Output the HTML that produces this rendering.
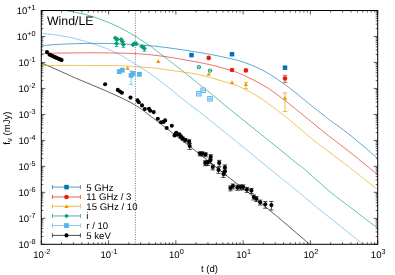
<!DOCTYPE html>
<html><head><meta charset="utf-8"><title>Wind/LE</title>
<style>
html,body{margin:0;padding:0;background:#fff;}
body{width:395px;height:275px;overflow:hidden;}
svg{display:block;will-change:transform;text-rendering:geometricPrecision;font-family:"Liberation Sans",sans-serif;fill:#000;}
</style></head><body>
<svg width="395" height="275" viewBox="0 0 395 275">
<rect width="395" height="275" fill="#fff"/>
<defs><clipPath id="c"><rect x="41.3" y="10.5" width="336.4" height="233.8"/></clipPath></defs>
<line x1="135.4" y1="10.5" x2="135.4" y2="244.3" stroke="#666" stroke-width="0.9" stroke-dasharray="1 1.43"/>
<g clip-path="url(#c)" fill="none" stroke-width="0.63" stroke-linejoin="round">
<path d="M41.50 62.90 C45.82 64.82 61.92 71.95 67.40 74.40 C72.88 76.85 68.97 75.28 74.40 77.60 C79.83 79.92 92.55 85.10 100.00 88.30 C107.45 91.50 114.10 94.48 119.10 96.80 C124.10 99.12 127.25 100.77 130.00 102.20 C132.75 103.63 133.93 104.40 135.60 105.40 C137.27 106.40 137.88 106.70 140.00 108.20 C142.12 109.70 142.57 110.03 148.30 114.40 C154.03 118.77 164.63 126.82 174.40 134.40 C184.17 141.98 198.22 153.05 206.90 159.90 C215.58 166.75 218.57 169.23 226.50 175.50 C234.43 181.77 247.83 192.13 254.50 197.50 C261.17 202.87 262.05 203.97 266.50 207.70 C270.95 211.43 274.17 213.93 281.20 219.90 C288.23 225.87 303.97 239.43 308.70 243.50 C313.43 247.57 309.45 244.17 309.60 244.30" stroke="#000000"/>
<path d="M41.50 33.40 C43.42 33.60 49.02 34.08 53.00 34.60 C56.98 35.12 61.23 35.70 65.40 36.50 C69.57 37.30 73.75 38.30 78.00 39.40 C82.25 40.50 86.40 41.68 90.90 43.10 C95.40 44.52 100.77 46.25 105.00 47.90 C109.23 49.55 113.75 51.82 116.30 53.00 C118.85 54.18 118.37 53.93 120.30 55.00 C122.23 56.07 124.62 57.40 127.90 59.40 C131.18 61.40 135.48 64.07 140.00 67.00 C144.52 69.93 150.00 73.37 155.00 77.00 C160.00 80.63 165.18 84.97 170.00 88.80 C174.82 92.63 180.57 97.33 183.90 100.00 C187.23 102.67 187.92 103.20 190.00 104.80 C192.08 106.40 194.73 108.35 196.40 109.60 C198.07 110.85 193.67 107.23 200.00 112.30 C206.33 117.37 226.90 133.97 234.40 140.00 C241.90 146.03 237.40 142.30 245.00 148.50 C252.60 154.70 272.48 171.08 280.00 177.20 C287.52 183.32 286.77 182.52 290.10 185.20 C293.43 187.88 295.38 189.47 300.00 193.30 C304.62 197.13 311.13 202.78 317.80 208.20 C324.47 213.62 332.63 219.92 340.00 225.80 C347.37 231.68 358.17 240.42 362.00 243.50 C365.83 246.58 362.83 244.17 363.00 244.30" stroke="#56b4e9"/>
<path d="M65.40 10.50 C67.50 10.88 73.75 11.87 78.00 12.80 C82.25 13.73 86.73 14.85 90.90 16.10 C95.07 17.35 99.07 18.82 103.00 20.30 C106.93 21.78 110.83 23.33 114.50 25.00 C118.17 26.67 121.53 28.43 125.00 30.30 C128.47 32.17 132.80 34.68 135.30 36.20 C137.80 37.72 137.55 37.80 140.00 39.40 C142.45 41.00 147.50 44.10 150.00 45.80 C152.50 47.50 152.03 47.32 155.00 49.60 C157.97 51.88 163.55 56.20 167.80 59.50 C172.05 62.80 176.80 66.50 180.50 69.40 C184.20 72.30 186.83 74.37 190.00 76.90 C193.17 79.43 196.63 82.33 199.50 84.60 C202.37 86.87 202.00 86.27 207.20 90.50 C212.40 94.73 222.73 103.50 230.70 110.00 C238.67 116.50 246.78 122.90 255.00 129.50 C263.22 136.10 272.68 143.68 280.00 149.60 C287.32 155.52 294.87 161.78 298.90 165.00 C302.93 168.22 299.12 164.53 304.20 168.90 C309.28 173.27 321.43 184.58 329.40 191.20 C337.37 197.82 343.98 202.45 352.00 208.60 C360.02 214.75 373.25 224.85 377.50 228.10" stroke="#009e73"/>
<path d="M41.50 65.50 C46.25 65.48 59.42 65.40 70.00 65.40 C80.58 65.40 95.83 65.40 105.00 65.50 C114.17 65.60 119.17 65.77 125.00 66.00 C130.83 66.23 135.00 66.55 140.00 66.90 C145.00 67.25 150.37 67.60 155.00 68.10 C159.63 68.60 161.97 69.08 167.80 69.90 C173.63 70.72 184.60 72.17 190.00 73.00 C195.40 73.83 195.70 73.82 200.20 74.90 C204.70 75.98 211.20 77.82 217.00 79.50 C222.80 81.18 231.17 83.75 235.00 85.00 C238.83 86.25 237.17 85.67 240.00 87.00 C242.83 88.33 247.83 90.63 252.00 93.00 C256.17 95.37 260.33 97.95 265.00 101.20 C269.67 104.45 275.97 109.42 280.00 112.50 C284.03 115.58 284.20 115.58 289.20 119.70 C294.20 123.82 305.17 133.18 310.00 137.20 C314.83 141.22 315.20 141.48 318.20 143.80 C321.20 146.12 323.32 147.57 328.00 151.10 C332.68 154.63 342.43 162.07 346.30 165.00 C350.17 167.93 346.00 164.62 351.20 168.70 C356.40 172.78 373.12 186.03 377.50 189.50" stroke="#e69f00"/>
<path d="M41.50 53.80 C42.92 53.72 46.08 53.43 50.00 53.30 C53.92 53.17 58.33 53.08 65.00 53.00 C71.67 52.92 83.33 52.82 90.00 52.80 C96.67 52.78 99.17 52.83 105.00 52.90 C110.83 52.97 119.17 53.03 125.00 53.20 C130.83 53.37 135.00 53.55 140.00 53.90 C145.00 54.25 149.67 54.68 155.00 55.30 C160.33 55.92 166.17 56.68 172.00 57.60 C177.83 58.52 185.33 59.97 190.00 60.80 C194.67 61.63 195.50 61.67 200.00 62.60 C204.50 63.53 211.17 64.87 217.00 66.40 C222.83 67.93 231.17 70.58 235.00 71.80 C238.83 73.02 237.17 72.47 240.00 73.70 C242.83 74.93 247.83 77.08 252.00 79.20 C256.17 81.32 262.00 84.70 265.00 86.40 C268.00 88.10 266.65 87.03 270.00 89.40 C273.35 91.77 280.10 96.73 285.10 100.60 C290.10 104.47 296.13 109.48 300.00 112.60 C303.87 115.72 304.42 116.13 308.30 119.30 C312.18 122.47 320.23 129.10 323.30 131.60 C326.37 134.10 322.25 130.85 326.70 134.30 C331.15 137.75 342.73 146.57 350.00 152.30 C357.27 158.03 365.72 164.98 370.30 168.70 C374.88 172.42 376.30 173.62 377.50 174.60" stroke="#e51e10"/>
<path d="M41.50 46.20 C42.08 46.07 42.50 45.68 45.00 45.40 C47.50 45.12 52.03 44.77 56.50 44.50 C60.97 44.23 66.22 43.98 71.80 43.80 C77.38 43.62 84.47 43.47 90.00 43.40 C95.53 43.33 100.00 43.33 105.00 43.40 C110.00 43.47 114.17 43.53 120.00 43.80 C125.83 44.07 134.17 44.60 140.00 45.00 C145.83 45.40 149.67 45.65 155.00 46.20 C160.33 46.75 166.17 47.50 172.00 48.30 C177.83 49.10 185.33 50.28 190.00 51.00 C194.67 51.72 195.50 51.82 200.00 52.60 C204.50 53.38 211.17 54.52 217.00 55.70 C222.83 56.88 231.17 58.82 235.00 59.70 C238.83 60.58 237.17 60.07 240.00 61.00 C242.83 61.93 247.83 63.55 252.00 65.30 C256.17 67.05 261.17 69.45 265.00 71.50 C268.83 73.55 271.60 75.35 275.00 77.60 C278.40 79.85 282.50 82.90 285.40 85.00 C288.30 87.10 289.22 87.70 292.40 90.20 C295.58 92.70 300.73 96.95 304.50 100.00 C308.27 103.05 311.52 105.75 315.00 108.50 C318.48 111.25 322.75 114.43 325.40 116.50 C328.05 118.57 326.80 117.82 330.90 120.90 C335.00 123.98 342.23 128.78 350.00 135.00 C357.77 141.22 372.92 154.33 377.50 158.20" stroke="#0072b2"/>
</g>
<path d="M180.80 135.22 V138.22 M178.60 135.22 H183.00 M178.60 138.22 H183.00" stroke="#000" stroke-width="0.70" fill="none"/>
<path d="M182.70 137.12 V140.12 M180.50 137.12 H184.90 M180.50 140.12 H184.90" stroke="#000" stroke-width="0.70" fill="none"/>
<path d="M185.30 138.47 V142.07 M183.10 138.47 H187.50 M183.10 142.07 H187.50" stroke="#000" stroke-width="0.70" fill="none"/>
<path d="M189.10 139.80 V143.80 M186.90 139.80 H191.30 M186.90 143.80 H191.30" stroke="#000" stroke-width="0.70" fill="none"/>
<path d="M189.70 143.45 V149.45 M187.50 143.45 H191.90 M187.50 149.45 H191.90" stroke="#000" stroke-width="0.70" fill="none"/>
<path d="M199.90 151.90 V155.90 M197.70 151.90 H202.10 M197.70 155.90 H202.10" stroke="#000" stroke-width="0.70" fill="none"/>
<path d="M202.40 151.90 V155.90 M200.20 151.90 H204.60 M200.20 155.90 H204.60" stroke="#000" stroke-width="0.70" fill="none"/>
<path d="M205.60 152.80 V156.80 M203.40 152.80 H207.80 M203.40 156.80 H207.80" stroke="#000" stroke-width="0.70" fill="none"/>
<path d="M210.70 154.68 V159.68 M208.50 154.68 H212.90 M208.50 159.68 H212.90" stroke="#000" stroke-width="0.70" fill="none"/>
<path d="M210.30 158.28 V163.28 M208.10 158.28 H212.50 M208.10 163.28 H212.50" stroke="#000" stroke-width="0.70" fill="none"/>
<path d="M205.20 160.78 V165.78 M203.00 160.78 H207.40 M203.00 165.78 H207.40" stroke="#000" stroke-width="0.70" fill="none"/>
<path d="M207.70 160.47 V165.47 M205.50 160.47 H209.90 M205.50 165.47 H209.90" stroke="#000" stroke-width="0.70" fill="none"/>
<path d="M212.80 164.88 V169.88 M210.60 164.88 H215.00 M210.60 169.88 H215.00" stroke="#000" stroke-width="0.70" fill="none"/>
<path d="M219.20 160.35 V166.35 M217.00 160.35 H221.40 M217.00 166.35 H221.40" stroke="#000" stroke-width="0.70" fill="none"/>
<path d="M218.50 167.35 V173.35 M216.30 167.35 H220.70 M216.30 173.35 H220.70" stroke="#000" stroke-width="0.70" fill="none"/>
<path d="M224.90 164.85 V170.85 M222.70 164.85 H227.10 M222.70 170.85 H227.10" stroke="#000" stroke-width="0.70" fill="none"/>
<path d="M224.90 169.05 V175.05 M222.70 169.05 H227.10 M222.70 175.05 H227.10" stroke="#000" stroke-width="0.70" fill="none"/>
<path d="M223.40 171.45 V177.45 M221.20 171.45 H225.60 M221.20 177.45 H225.60" stroke="#000" stroke-width="0.70" fill="none"/>
<path d="M230.40 185.88 V190.88 M228.20 185.88 H232.60 M228.20 190.88 H232.60" stroke="#000" stroke-width="0.70" fill="none"/>
<path d="M232.90 183.97 V188.97 M230.70 183.97 H235.10 M230.70 188.97 H235.10" stroke="#000" stroke-width="0.70" fill="none"/>
<path d="M237.40 185.28 V190.28 M235.20 185.28 H239.60 M235.20 190.28 H239.60" stroke="#000" stroke-width="0.70" fill="none"/>
<path d="M240.50 184.88 V189.88 M238.30 184.88 H242.70 M238.30 189.88 H242.70" stroke="#000" stroke-width="0.70" fill="none"/>
<path d="M243.10 184.88 V189.88 M240.90 184.88 H245.30 M240.90 189.88 H245.30" stroke="#000" stroke-width="0.70" fill="none"/>
<path d="M246.90 187.38 V192.38 M244.70 187.38 H249.10 M244.70 192.38 H249.10" stroke="#000" stroke-width="0.70" fill="none"/>
<path d="M251.40 188.47 V193.47 M249.20 188.47 H253.60 M249.20 193.47 H253.60" stroke="#000" stroke-width="0.70" fill="none"/>
<path d="M253.80 194.97 V199.97 M251.60 194.97 H256.00 M251.60 199.97 H256.00" stroke="#000" stroke-width="0.70" fill="none"/>
<path d="M256.40 196.57 V201.57 M254.20 196.57 H258.60 M254.20 201.57 H258.60" stroke="#000" stroke-width="0.70" fill="none"/>
<path d="M260.20 200.07 V205.07 M258.00 200.07 H262.40 M258.00 205.07 H262.40" stroke="#000" stroke-width="0.70" fill="none"/>
<path d="M265.30 201.41 V208.21 M263.10 201.41 H267.50 M263.10 208.21 H267.50" stroke="#000" stroke-width="0.70" fill="none"/>
<path d="M271.40 201.44 V210.04 M269.20 201.44 H273.60 M269.20 210.04 H273.60" stroke="#000" stroke-width="0.70" fill="none"/>
<circle cx="47.00" cy="52.10" r="2.05" fill="#000"/>
<circle cx="49.50" cy="54.60" r="2.05" fill="#000"/>
<circle cx="51.00" cy="55.30" r="2.05" fill="#000"/>
<circle cx="52.50" cy="56.00" r="2.05" fill="#000"/>
<circle cx="54.00" cy="56.70" r="2.05" fill="#000"/>
<circle cx="55.50" cy="57.40" r="2.05" fill="#000"/>
<circle cx="57.00" cy="58.00" r="2.05" fill="#000"/>
<circle cx="58.50" cy="58.70" r="2.05" fill="#000"/>
<circle cx="60.00" cy="59.40" r="2.05" fill="#000"/>
<circle cx="61.60" cy="60.10" r="2.05" fill="#000"/>
<circle cx="105.10" cy="84.20" r="2.05" fill="#000"/>
<circle cx="117.80" cy="89.90" r="2.05" fill="#000"/>
<circle cx="120.00" cy="91.50" r="2.05" fill="#000"/>
<circle cx="121.90" cy="92.70" r="2.05" fill="#000"/>
<circle cx="130.50" cy="97.60" r="2.05" fill="#000"/>
<circle cx="137.50" cy="100.40" r="2.05" fill="#000"/>
<circle cx="138.80" cy="102.30" r="2.05" fill="#000"/>
<circle cx="142.00" cy="105.40" r="2.05" fill="#000"/>
<circle cx="144.80" cy="109.00" r="2.05" fill="#000"/>
<circle cx="149.00" cy="108.80" r="2.05" fill="#000"/>
<circle cx="150.20" cy="110.80" r="2.05" fill="#000"/>
<circle cx="153.70" cy="112.10" r="2.05" fill="#000"/>
<circle cx="157.80" cy="118.80" r="2.05" fill="#000"/>
<circle cx="161.00" cy="122.30" r="2.05" fill="#000"/>
<circle cx="163.50" cy="121.90" r="2.05" fill="#000"/>
<circle cx="165.10" cy="120.40" r="2.05" fill="#000"/>
<circle cx="171.80" cy="125.80" r="2.05" fill="#000"/>
<circle cx="166.70" cy="128.00" r="2.05" fill="#000"/>
<circle cx="176.30" cy="132.80" r="2.05" fill="#000"/>
<circle cx="179.40" cy="134.40" r="2.05" fill="#000"/>
<circle cx="175.70" cy="133.90" r="2.05" fill="#000"/>
<circle cx="177.60" cy="134.50" r="2.05" fill="#000"/>
<circle cx="180.80" cy="136.50" r="2.05" fill="#000"/>
<circle cx="182.70" cy="138.40" r="2.05" fill="#000"/>
<circle cx="185.30" cy="140.00" r="2.05" fill="#000"/>
<circle cx="189.10" cy="141.50" r="2.05" fill="#000"/>
<circle cx="189.70" cy="146.00" r="2.05" fill="#000"/>
<circle cx="199.90" cy="153.60" r="2.05" fill="#000"/>
<circle cx="202.40" cy="153.60" r="2.05" fill="#000"/>
<circle cx="205.60" cy="154.50" r="2.05" fill="#000"/>
<circle cx="210.70" cy="156.80" r="2.05" fill="#000"/>
<circle cx="210.30" cy="160.40" r="2.05" fill="#000"/>
<circle cx="205.20" cy="162.90" r="2.05" fill="#000"/>
<circle cx="207.70" cy="162.60" r="2.05" fill="#000"/>
<circle cx="212.80" cy="167.00" r="2.05" fill="#000"/>
<circle cx="219.20" cy="162.90" r="2.05" fill="#000"/>
<circle cx="218.50" cy="169.90" r="2.05" fill="#000"/>
<circle cx="224.90" cy="167.40" r="2.05" fill="#000"/>
<circle cx="224.90" cy="171.60" r="2.05" fill="#000"/>
<circle cx="223.40" cy="174.00" r="2.05" fill="#000"/>
<circle cx="230.40" cy="188.00" r="2.05" fill="#000"/>
<circle cx="232.90" cy="186.10" r="2.05" fill="#000"/>
<circle cx="237.40" cy="187.40" r="2.05" fill="#000"/>
<circle cx="240.50" cy="187.00" r="2.05" fill="#000"/>
<circle cx="243.10" cy="187.00" r="2.05" fill="#000"/>
<circle cx="246.90" cy="189.50" r="2.05" fill="#000"/>
<circle cx="251.40" cy="190.60" r="2.05" fill="#000"/>
<circle cx="253.80" cy="197.10" r="2.05" fill="#000"/>
<circle cx="256.40" cy="198.70" r="2.05" fill="#000"/>
<circle cx="260.20" cy="202.20" r="2.05" fill="#000"/>
<circle cx="265.30" cy="204.30" r="2.05" fill="#000"/>
<circle cx="271.40" cy="205.10" r="2.05" fill="#000"/>
<circle cx="174.60" cy="135.40" r="2.05" fill="#000"/>
<path d="M131.10 71.00 V84.50 M129.10 71.00 H133.10 M129.10 84.50 H133.10" stroke="#56b4e9" stroke-width="0.70" fill="none"/>
<rect x="116.90" y="69.20" width="4.80" height="4.80" fill="#56b4e9"/>
<rect x="119.90" y="67.80" width="4.80" height="4.80" fill="#56b4e9"/>
<rect x="128.70" y="73.00" width="4.80" height="4.80" fill="#56b4e9"/>
<rect x="130.60" y="71.00" width="4.80" height="4.80" fill="#56b4e9"/>
<rect x="137.00" y="71.90" width="4.80" height="4.80" fill="#56b4e9"/>
<rect x="196.60" y="91.40" width="4.60" height="4.60" fill="#d4eafa" stroke="#56b4e9" stroke-width="0.9"/>
<path d="M197.90 93.70 H199.90 M197.90 92.70 V94.70 M199.90 92.70 V94.70" stroke="#56b4e9" stroke-width="0.7" fill="none"/>
<rect x="200.80" y="88.00" width="4.60" height="4.60" fill="#d4eafa" stroke="#56b4e9" stroke-width="0.9"/>
<path d="M202.10 90.30 H204.10 M202.10 89.30 V91.30 M204.10 89.30 V91.30" stroke="#56b4e9" stroke-width="0.7" fill="none"/>
<rect x="207.70" y="96.50" width="4.60" height="4.60" fill="#d4eafa" stroke="#56b4e9" stroke-width="0.9"/>
<path d="M209.00 98.80 H211.00 M209.00 97.80 V99.80 M211.00 97.80 V99.80" stroke="#56b4e9" stroke-width="0.7" fill="none"/>
<path d="M116.50 40.70 V46.50 M114.50 40.70 H118.50 M114.50 46.50 H118.50" stroke="#009e73" stroke-width="0.70" fill="none"/>
<path d="M123.40 41.40 V47.40 M121.40 41.40 H125.40 M121.40 47.40 H125.40" stroke="#009e73" stroke-width="0.70" fill="none"/>
<path d="M144.40 45.70 V51.30 M142.40 45.70 H146.40 M142.40 51.30 H146.40" stroke="#009e73" stroke-width="0.70" fill="none"/>
<path d="M115.30 35.50 L117.80 38.00 L115.30 40.50 L112.80 38.00 Z" fill="#009e73"/>
<path d="M117.20 36.80 L119.70 39.30 L117.20 41.80 L114.70 39.30 Z" fill="#009e73"/>
<path d="M116.50 41.10 L119.00 43.60 L116.50 46.10 L114.00 43.60 Z" fill="#009e73"/>
<path d="M121.20 36.90 L123.70 39.40 L121.20 41.90 L118.70 39.40 Z" fill="#009e73"/>
<path d="M122.30 39.10 L124.80 41.60 L122.30 44.10 L119.80 41.60 Z" fill="#009e73"/>
<path d="M123.40 41.90 L125.90 44.40 L123.40 46.90 L120.90 44.40 Z" fill="#009e73"/>
<path d="M133.00 42.30 L135.50 44.80 L133.00 47.30 L130.50 44.80 Z" fill="#009e73"/>
<path d="M136.20 41.30 L138.70 43.80 L136.20 46.30 L133.70 43.80 Z" fill="#009e73"/>
<path d="M134.60 41.10 L137.10 43.60 L134.60 46.10 L132.10 43.60 Z" fill="#009e73"/>
<path d="M141.90 44.10 L144.40 46.60 L141.90 49.10 L139.40 46.60 Z" fill="#009e73"/>
<path d="M144.40 46.00 L146.90 48.50 L144.40 51.00 L141.90 48.50 Z" fill="#009e73"/>
<circle cx="198.90" cy="67.20" r="1.75" fill="#fff" stroke="#009e73" stroke-width="0.9"/>
<path d="M197.70 67.20 H200.10 M197.70 66.30 V68.10 M200.10 66.30 V68.10" stroke="#009e73" stroke-width="0.7" fill="none"/>
<circle cx="210.00" cy="70.60" r="1.75" fill="#fff" stroke="#009e73" stroke-width="0.9"/>
<path d="M208.80 70.60 H211.20 M208.80 69.70 V71.50 M211.20 69.70 V71.50" stroke="#009e73" stroke-width="0.7" fill="none"/>
<path d="M245.90 82.30 V88.70 M243.80 82.30 H248.00 M243.80 88.70 H248.00" stroke="#e69f00" stroke-width="0.70" fill="none"/>
<path d="M285.00 92.90 V111.50 M282.80 92.90 H287.20 M282.80 111.50 H287.20" stroke="#e69f00" stroke-width="0.70" fill="none"/>
<path d="M127.60 66.01 L129.80 69.75 L125.40 69.75 Z" fill="#e69f00"/>
<path d="M158.30 59.21 L160.50 62.95 L156.10 62.95 Z" fill="#e69f00"/>
<path d="M208.70 72.11 L210.90 75.85 L206.50 75.85 Z" fill="#e69f00"/>
<path d="M232.00 80.31 L234.20 84.05 L229.80 84.05 Z" fill="#e69f00"/>
<path d="M245.90 82.31 L248.10 86.05 L243.70 86.05 Z" fill="#e69f00"/>
<path d="M285.00 96.01 L287.20 99.75 L282.80 99.75 Z" fill="#e69f00"/>
<path d="M285.00 75.40 V82.40 M282.80 75.40 H287.20 M282.80 82.40 H287.20" stroke="#e51e10" stroke-width="0.70" fill="none"/>
<circle cx="208.70" cy="57.90" r="2.30" fill="#e51e10"/>
<circle cx="232.00" cy="70.00" r="2.30" fill="#e51e10"/>
<circle cx="245.90" cy="70.40" r="2.30" fill="#e51e10"/>
<circle cx="285.00" cy="78.50" r="2.30" fill="#e51e10"/>
<rect x="189.25" y="52.85" width="4.50" height="4.50" fill="#0072b2"/>
<rect x="229.75" y="51.95" width="4.50" height="4.50" fill="#0072b2"/>
<rect x="282.75" y="65.45" width="4.50" height="4.50" fill="#0072b2"/>
<path d="M52.40 187.10 H80.40 M52.40 185.00 V189.20 M80.40 185.00 V189.20" stroke="#0072b2" stroke-width="0.70" fill="none"/>
<rect x="64.25" y="184.85" width="4.50" height="4.50" fill="#0072b2"/>
<text x="86.3" y="190.6" font-size="9.6">5 GHz</text>
<path d="M52.40 196.95 H80.40 M52.40 194.85 V199.05 M80.40 194.85 V199.05" stroke="#e51e10" stroke-width="0.70" fill="none"/>
<circle cx="66.50" cy="196.95" r="2.30" fill="#e51e10"/>
<text x="86.3" y="200.4" font-size="9.6">11 GHz / 3</text>
<path d="M52.40 206.30 H80.40 M52.40 204.20 V208.40 M80.40 204.20 V208.40" stroke="#e69f00" stroke-width="0.70" fill="none"/>
<path d="M66.50 204.21 L68.70 207.95 L64.30 207.95 Z" fill="#e69f00"/>
<text x="86.3" y="209.8" font-size="9.6">15 GHz / 10</text>
<path d="M52.40 215.95 H80.40 M52.40 213.85 V218.05 M80.40 213.85 V218.05" stroke="#009e73" stroke-width="0.70" fill="none"/>
<path d="M66.50 213.65 L68.80 215.95 L66.50 218.25 L64.20 215.95 Z" fill="#009e73"/>
<text x="86.3" y="219.4" font-size="9.6">i</text>
<path d="M52.40 225.55 H80.40 M52.40 223.45 V227.65 M80.40 223.45 V227.65" stroke="#56b4e9" stroke-width="0.70" fill="none"/>
<rect x="64.10" y="223.15" width="4.80" height="4.80" fill="#56b4e9"/>
<text x="86.3" y="229.1" font-size="9.6">r / 10</text>
<path d="M52.40 235.40 H80.40 M52.40 233.30 V237.50 M80.40 233.30 V237.50" stroke="#000000" stroke-width="0.70" fill="none"/>
<circle cx="66.50" cy="235.40" r="2.05" fill="#000000"/>
<text x="86.3" y="238.9" font-size="9.6">5 keV</text>
<path d="M41.30 244.30 v-4 M41.30 10.50 v4 M61.55 244.30 v-2 M61.55 10.50 v2 M73.40 244.30 v-2 M73.40 10.50 v2 M81.81 244.30 v-2 M81.81 10.50 v2 M88.33 244.30 v-2 M88.33 10.50 v2 M93.65 244.30 v-2 M93.65 10.50 v2 M98.16 244.30 v-2 M98.16 10.50 v2 M102.06 244.30 v-2 M102.06 10.50 v2 M105.50 244.30 v-2 M105.50 10.50 v2 M108.58 244.30 v-4 M108.58 10.50 v4 M128.83 244.30 v-2 M128.83 10.50 v2 M140.68 244.30 v-2 M140.68 10.50 v2 M149.09 244.30 v-2 M149.09 10.50 v2 M155.61 244.30 v-2 M155.61 10.50 v2 M160.93 244.30 v-2 M160.93 10.50 v2 M165.44 244.30 v-2 M165.44 10.50 v2 M169.34 244.30 v-2 M169.34 10.50 v2 M172.78 244.30 v-2 M172.78 10.50 v2 M175.86 244.30 v-4 M175.86 10.50 v4 M196.11 244.30 v-2 M196.11 10.50 v2 M207.96 244.30 v-2 M207.96 10.50 v2 M216.37 244.30 v-2 M216.37 10.50 v2 M222.89 244.30 v-2 M222.89 10.50 v2 M228.21 244.30 v-2 M228.21 10.50 v2 M232.72 244.30 v-2 M232.72 10.50 v2 M236.62 244.30 v-2 M236.62 10.50 v2 M240.06 244.30 v-2 M240.06 10.50 v2 M243.14 244.30 v-4 M243.14 10.50 v4 M263.39 244.30 v-2 M263.39 10.50 v2 M275.24 244.30 v-2 M275.24 10.50 v2 M283.65 244.30 v-2 M283.65 10.50 v2 M290.17 244.30 v-2 M290.17 10.50 v2 M295.49 244.30 v-2 M295.49 10.50 v2 M300.00 244.30 v-2 M300.00 10.50 v2 M303.90 244.30 v-2 M303.90 10.50 v2 M307.34 244.30 v-2 M307.34 10.50 v2 M310.42 244.30 v-4 M310.42 10.50 v4 M330.67 244.30 v-2 M330.67 10.50 v2 M342.52 244.30 v-2 M342.52 10.50 v2 M350.93 244.30 v-2 M350.93 10.50 v2 M357.45 244.30 v-2 M357.45 10.50 v2 M362.77 244.30 v-2 M362.77 10.50 v2 M367.28 244.30 v-2 M367.28 10.50 v2 M371.18 244.30 v-2 M371.18 10.50 v2 M374.62 244.30 v-2 M374.62 10.50 v2 M377.70 244.30 v-4 M377.70 10.50 v4 M41.30 244.30 h4 M377.70 244.30 h-4 M41.30 236.48 h2 M377.70 236.48 h-2 M41.30 231.91 h2 M377.70 231.91 h-2 M41.30 228.66 h2 M377.70 228.66 h-2 M41.30 226.14 h2 M377.70 226.14 h-2 M41.30 224.09 h2 M377.70 224.09 h-2 M41.30 222.35 h2 M377.70 222.35 h-2 M41.30 220.84 h2 M377.70 220.84 h-2 M41.30 219.51 h2 M377.70 219.51 h-2 M41.30 218.32 h4 M377.70 218.32 h-4 M41.30 210.50 h2 M377.70 210.50 h-2 M41.30 205.93 h2 M377.70 205.93 h-2 M41.30 202.68 h2 M377.70 202.68 h-2 M41.30 200.16 h2 M377.70 200.16 h-2 M41.30 198.11 h2 M377.70 198.11 h-2 M41.30 196.37 h2 M377.70 196.37 h-2 M41.30 194.86 h2 M377.70 194.86 h-2 M41.30 193.53 h2 M377.70 193.53 h-2 M41.30 192.34 h4 M377.70 192.34 h-4 M41.30 184.52 h2 M377.70 184.52 h-2 M41.30 179.95 h2 M377.70 179.95 h-2 M41.30 176.70 h2 M377.70 176.70 h-2 M41.30 174.19 h2 M377.70 174.19 h-2 M41.30 172.13 h2 M377.70 172.13 h-2 M41.30 170.39 h2 M377.70 170.39 h-2 M41.30 168.88 h2 M377.70 168.88 h-2 M41.30 167.56 h2 M377.70 167.56 h-2 M41.30 166.37 h4 M377.70 166.37 h-4 M41.30 158.55 h2 M377.70 158.55 h-2 M41.30 153.97 h2 M377.70 153.97 h-2 M41.30 150.73 h2 M377.70 150.73 h-2 M41.30 148.21 h2 M377.70 148.21 h-2 M41.30 146.15 h2 M377.70 146.15 h-2 M41.30 144.41 h2 M377.70 144.41 h-2 M41.30 142.91 h2 M377.70 142.91 h-2 M41.30 141.58 h2 M377.70 141.58 h-2 M41.30 140.39 h4 M377.70 140.39 h-4 M41.30 132.57 h2 M377.70 132.57 h-2 M41.30 127.99 h2 M377.70 127.99 h-2 M41.30 124.75 h2 M377.70 124.75 h-2 M41.30 122.23 h2 M377.70 122.23 h-2 M41.30 120.17 h2 M377.70 120.17 h-2 M41.30 118.44 h2 M377.70 118.44 h-2 M41.30 116.93 h2 M377.70 116.93 h-2 M41.30 115.60 h2 M377.70 115.60 h-2 M41.30 114.41 h4 M377.70 114.41 h-4 M41.30 106.59 h2 M377.70 106.59 h-2 M41.30 102.02 h2 M377.70 102.02 h-2 M41.30 98.77 h2 M377.70 98.77 h-2 M41.30 96.25 h2 M377.70 96.25 h-2 M41.30 94.20 h2 M377.70 94.20 h-2 M41.30 92.46 h2 M377.70 92.46 h-2 M41.30 90.95 h2 M377.70 90.95 h-2 M41.30 89.62 h2 M377.70 89.62 h-2 M41.30 88.43 h4 M377.70 88.43 h-4 M41.30 80.61 h2 M377.70 80.61 h-2 M41.30 76.04 h2 M377.70 76.04 h-2 M41.30 72.79 h2 M377.70 72.79 h-2 M41.30 70.28 h2 M377.70 70.28 h-2 M41.30 68.22 h2 M377.70 68.22 h-2 M41.30 66.48 h2 M377.70 66.48 h-2 M41.30 64.97 h2 M377.70 64.97 h-2 M41.30 63.64 h2 M377.70 63.64 h-2 M41.30 62.46 h4 M377.70 62.46 h-4 M41.30 54.64 h2 M377.70 54.64 h-2 M41.30 50.06 h2 M377.70 50.06 h-2 M41.30 46.82 h2 M377.70 46.82 h-2 M41.30 44.30 h2 M377.70 44.30 h-2 M41.30 42.24 h2 M377.70 42.24 h-2 M41.30 40.50 h2 M377.70 40.50 h-2 M41.30 39.00 h2 M377.70 39.00 h-2 M41.30 37.67 h2 M377.70 37.67 h-2 M41.30 36.48 h4 M377.70 36.48 h-4 M41.30 28.66 h2 M377.70 28.66 h-2 M41.30 24.08 h2 M377.70 24.08 h-2 M41.30 20.84 h2 M377.70 20.84 h-2 M41.30 18.32 h2 M377.70 18.32 h-2 M41.30 16.26 h2 M377.70 16.26 h-2 M41.30 14.52 h2 M377.70 14.52 h-2 M41.30 13.02 h2 M377.70 13.02 h-2 M41.30 11.69 h2 M377.70 11.69 h-2 M41.30 10.50 h4 M377.70 10.50 h-4" stroke="#000" stroke-width="0.65" fill="none"/>
<rect x="41.3" y="10.5" width="336.4" height="233.8" fill="none" stroke="#000" stroke-width="1"/>
<text x="41.8" y="258.2" font-size="9.6" text-anchor="middle">10<tspan font-size="7.3" dy="-4.1">-2</tspan></text>
<text x="109.1" y="258.2" font-size="9.6" text-anchor="middle">10<tspan font-size="7.3" dy="-4.1">-1</tspan></text>
<text x="176.4" y="258.2" font-size="9.6" text-anchor="middle">10<tspan font-size="7.3" dy="-4.1">0</tspan></text>
<text x="243.6" y="258.2" font-size="9.6" text-anchor="middle">10<tspan font-size="7.3" dy="-4.1">1</tspan></text>
<text x="310.9" y="258.2" font-size="9.6" text-anchor="middle">10<tspan font-size="7.3" dy="-4.1">2</tspan></text>
<text x="378.2" y="258.2" font-size="9.6" text-anchor="middle">10<tspan font-size="7.3" dy="-4.1">3</tspan></text>
<text x="35.7" y="248.1" font-size="9.6" text-anchor="end">10<tspan font-size="7.3" dy="-4.1">-8</tspan></text>
<text x="35.7" y="222.1" font-size="9.6" text-anchor="end">10<tspan font-size="7.3" dy="-4.1">-7</tspan></text>
<text x="35.7" y="196.1" font-size="9.6" text-anchor="end">10<tspan font-size="7.3" dy="-4.1">-6</tspan></text>
<text x="35.7" y="170.2" font-size="9.6" text-anchor="end">10<tspan font-size="7.3" dy="-4.1">-5</tspan></text>
<text x="35.7" y="144.2" font-size="9.6" text-anchor="end">10<tspan font-size="7.3" dy="-4.1">-4</tspan></text>
<text x="35.7" y="118.2" font-size="9.6" text-anchor="end">10<tspan font-size="7.3" dy="-4.1">-3</tspan></text>
<text x="35.7" y="92.2" font-size="9.6" text-anchor="end">10<tspan font-size="7.3" dy="-4.1">-2</tspan></text>
<text x="35.7" y="66.3" font-size="9.6" text-anchor="end">10<tspan font-size="7.3" dy="-4.1">-1</tspan></text>
<text x="35.7" y="40.3" font-size="9.6" text-anchor="end">10<tspan font-size="7.3" dy="-4.1">+0</tspan></text>
<text x="35.7" y="14.3" font-size="9.6" text-anchor="end">10<tspan font-size="7.3" dy="-4.1">+1</tspan></text>
<text x="209.5" y="271.8" font-size="9.6" text-anchor="middle">t (d)</text>
<text transform="translate(10.2,128.1) rotate(-90)" font-size="9.6" text-anchor="middle">f<tspan font-size="7.7" dy="2.2">ν</tspan><tspan dy="-2.2"> (mJy)</tspan></text>
<text x="47.0" y="25.3" font-size="12.3">Wind/LE</text>
</svg>
</body></html>
